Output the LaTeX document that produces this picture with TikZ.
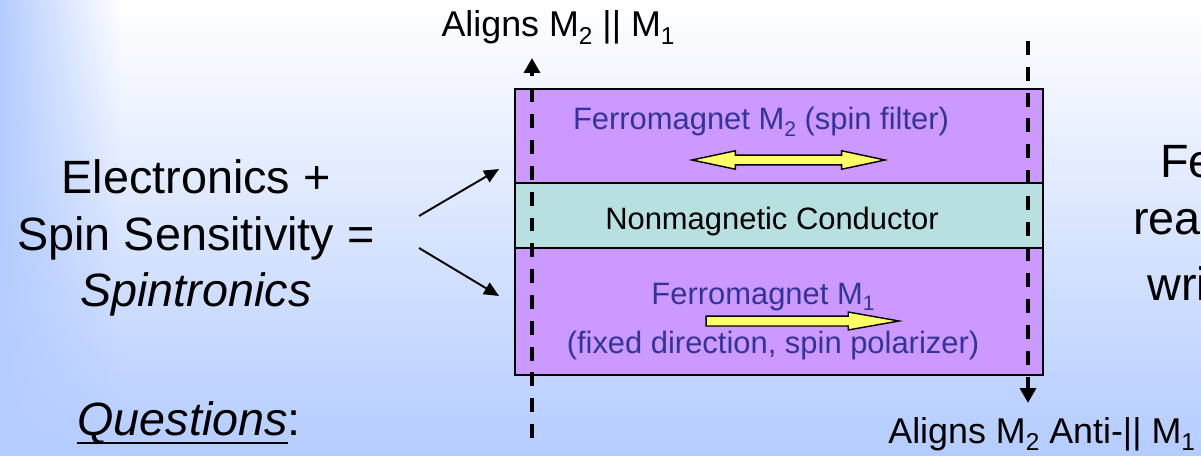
\documentclass[tikz,border=0pt]{standalone}
\usepackage{fontspec}
\setmainfont{Liberation Sans}
\usetikzlibrary{positioning,arrows.meta,shapes.arrows,fadings}
\definecolor{Lilac}{HTML}{CC99FF}
\definecolor{Aqua}{HTML}{B8E0E0}
\definecolor{Indigo}{HTML}{333399}
\definecolor{Lemon}{HTML}{FFFF66}
\definecolor{SkyBlue}{HTML}{B4CCFF}
\tikzfading[name=fade right,left color=transparent!0,right color=transparent!100]
\newcommand{\fatul}[1]{\setbox0\hbox{#1}\rlap{\rule[-5.4pt]{\wd0}{1.7pt}}\box0}
\newcommand{\lowsub}[1]{\raisebox{-.22em}{\scalebox{.68}{#1}}}
\tikzset{
  layer box/.style={draw=black,line width=1.1pt,minimum width=10.56cm,
    outer sep=0pt,inner sep=0pt},
  layer text/.style={font=\fontsize{17.6}{21}\selectfont,text=Indigo,
    inner sep=0pt,anchor=base},
  big text/.style={font=\fontsize{26.6}{32.3}\selectfont,inner sep=0pt},
  align text/.style={font=\fontsize{20.4}{24}\selectfont,inner sep=0pt},
  spin arrow/.style={draw=black,line width=.8pt,fill=Lemon,inner sep=.085cm,
    minimum height=3.86cm},
  dash guide/.style={line width=2.3pt,dash pattern=on 7.9pt off 6.8pt,
    -{Triangle[length=8.5pt,width=9pt]}},
  pointer arrow/.style={line width=1.1pt,-{Triangle[length=8.5pt,width=7.5pt]}}
}

\begin{document}
\begin{tikzpicture}[x=0.02cm,y=-0.02cm]
  \useasboundingbox (0,0) rectangle (1201,456);
  \clip (0,0) rectangle (1201,456);
  % slide background
  \shade[top color=white,middle color=SkyBlue!30,bottom color=SkyBlue]
    (0,0) rectangle (1201,456);
  \fill[SkyBlue,path fading=fade right] (0,0) rectangle (120,456);

  % layer stack
  \node[layer box,fill=Lilac,minimum height=1.88cm] (m2) at (779,136) {};
  \node[layer box,fill=Aqua,minimum height=1.30cm,below=0pt of m2] (nm) {};
  \node[layer box,fill=Lilac,minimum height=2.54cm,below=0pt of nm] (m1) {};

  \node[layer text] (m2label) at (761,130) {Ferromagnet M\lowsub{2} (spin filter)};
  \node[layer text,text=black] (nmlabel) at (772,230) {Nonmagnetic Conductor};
  \node[layer text] (m1label) at (763,304) {Ferromagnet M\lowsub{1}};
  \node[layer text] (m1note) at (773,353) {(fixed direction, spin polarizer)};

  \node[spin arrow,double arrow,double arrow tip angle=24,
    double arrow head extend=.085cm] (m2spin) at (788.5,160) {};
  \node[spin arrow,single arrow,single arrow tip angle=20,
    single arrow head extend=.08cm] (m1spin) at (788.5,321) {};

  % alignment guides
  \coordinate (lbot) at (532,438);
  \coordinate (ltop) at (532,58);
  \coordinate (rtop) at (1028,41);
  \coordinate (rbot) at (1028,403);
  \draw[dash guide] (lbot) -- (ltop);
  \draw[dash guide] (rtop) -- (rbot);
  \node[align text,anchor=base] (alpar) at (558,37)
    {Aligns M\lowsub{2} || M\lowsub{1}};
  \node[align text,anchor=base west] (alanti) at (888,443)
    {Aligns M\lowsub{2} Anti-|| M\lowsub{1}};

  % left text
  \node[big text,align=center] (equation) at (196,238)
    {Electronics +\\Spin Sensitivity =\\\textit{Spintronics}};
  \node[big text,anchor=base west] (questions) at (77,435) {\fatul{\textit{Questions}}:};
  \coordinate (up from) at (419,216);
  \coordinate (up to) at (499,169);
  \coordinate (down from) at (419,248);
  \coordinate (down to) at (499,296);
  \draw[pointer arrow] (up from) -- (up to);
  \draw[pointer arrow] (down from) -- (down to);

  % right text, cut by the edge
  \node[big text,anchor=base west] (cut1) at (1160,177) {Fe};
  \node[big text,anchor=base west] (cut2) at (1133,235) {rea};
  \node[big text,anchor=base west] (cut3) at (1147,300) {wri};
\end{tikzpicture}
\end{document}
